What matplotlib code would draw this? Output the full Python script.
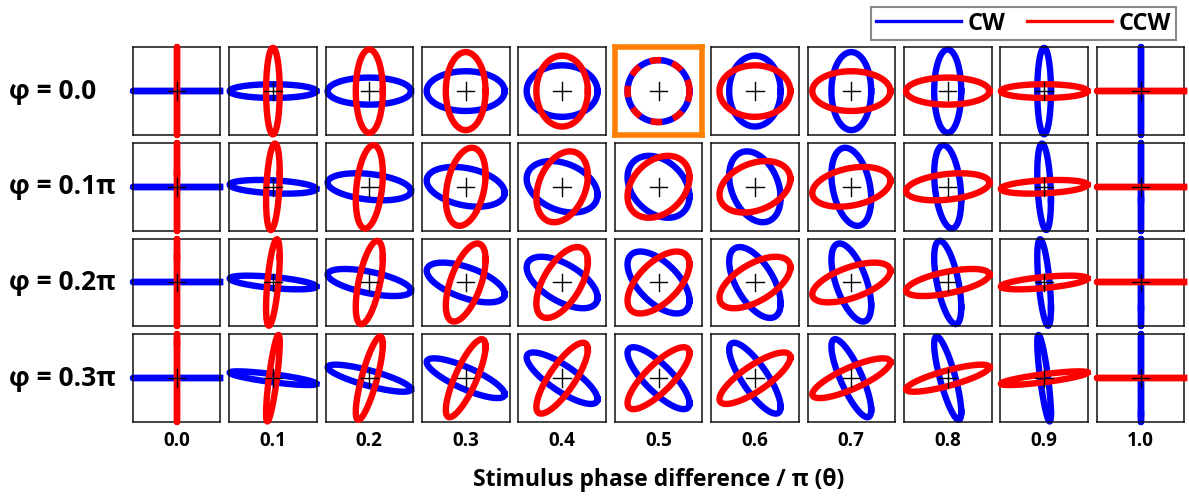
import matplotlib.pyplot as plt
from matplotlib.lines import Line2D
import numpy as np

# stimulus phase difference (in units of pi), one column each
theta = [0.0, 0.1, 0.2, 0.3, 0.4, 0.5, 0.6, 0.7, 0.8, 0.9, 1.0]
# phase offset phi (in units of pi), one row each
phi = [0.0, 0.1, 0.2, 0.3]

row_labels = ["φ = 0.0", "φ = 0.1π", "φ = 0.2π", "φ = 0.3π"]
col_labels = ["0.0", "0.1", "0.2", "0.3", "0.4", "0.5", "0.6", "0.7", "0.8", "0.9", "1.0"]
xlabel = "Stimulus phase difference / π (θ)"
series_names = ["CW", "CCW"]
highlight = (0, 5)  # (row, col) of the framed panel

plt.rcParams["font.family"] = ["Open Sans", "DejaVu Sans"]

W, H = 1189, 499
fig = plt.figure(figsize=(W / 100, H / 100), dpi=100)

# panel grid in pixels
x0, y0 = 132.7, 47.3
size = 87.6
dx, dy = 96.4, 95.7

t = np.linspace(0, 2 * np.pi, 600)
lw = 4.6

for i, p in enumerate(phi):
    for j, th in enumerate(theta):
        ax = fig.add_axes([(x0 + j * dx) / W, 1 - (y0 + i * dy + size) / H, size / W, size / H])
        a = np.cos(th * np.pi / 2)
        b = np.sin(th * np.pi / 2)

        # CW trajectory
        ax.plot(a * np.cos(t), b * np.cos(t + np.pi / 2 + p * np.pi),
                color="#0000ff", lw=lw, clip_on=False, zorder=2)
        # CCW trajectory
        if (i, j) == highlight:
            ax.plot(b * np.cos(t), a * np.cos(t - np.pi / 2 + p * np.pi),
                    color="#ff0000", lw=lw, clip_on=False, zorder=3,
                    linestyle=(0, (1.8, 1.8)), dash_capstyle="butt")
        else:
            ax.plot(b * np.cos(t), a * np.cos(t - np.pi / 2 + p * np.pi),
                    color="#ff0000", lw=lw, clip_on=False, zorder=3)

        # centre cross
        ax.plot([-0.2, 0.2], [0, 0], color="black", lw=1, zorder=4)
        ax.plot([0, 0], [-0.2, 0.2], color="black", lw=1, zorder=4)

        ax.set_xlim(-1, 1)
        ax.set_ylim(-1, 1)
        ax.set_xticks([])
        ax.set_yticks([])
        for s in ax.spines.values():
            if (i, j) == highlight:
                s.set_color("#ff8000")
                s.set_linewidth(4)
            else:
                s.set_color("#111111")
                s.set_linewidth(1.1)

# row labels
for i, lab in enumerate(row_labels):
    fig.text(9 / W, 1 - (y0 + i * dy + size / 2) / H, lab, ha="left", va="center",
             fontsize=19, fontweight="bold")

# column labels
for j, lab in enumerate(col_labels):
    fig.text((x0 + j * dx + size / 2) / W, 1 - 441 / H, lab, ha="center", va="center",
             fontsize=13.5, fontweight="bold")

fig.text((x0 + 5 * dx + size / 2) / W, 1 - 480 / H, xlabel, ha="center", va="center",
         fontsize=16.5, fontweight="bold")

handles = [Line2D([], [], color="#0000ff", lw=2.4), Line2D([], [], color="#ff0000", lw=2.4)]
leg = fig.legend(handles, series_names, loc="upper right", ncol=2,
                 bbox_to_anchor=(1176 / W, 1 - 7 / H), borderaxespad=0,
                 prop={"size": 17, "weight": "bold"},
                 handlelength=3.6, handletextpad=0.3, columnspacing=0.9,
                 borderpad=0.2, fancybox=False, framealpha=1)
leg.get_frame().set_edgecolor("#888888")
leg.get_frame().set_linewidth(1.5)

fig.savefig("out.png", dpi=100)
